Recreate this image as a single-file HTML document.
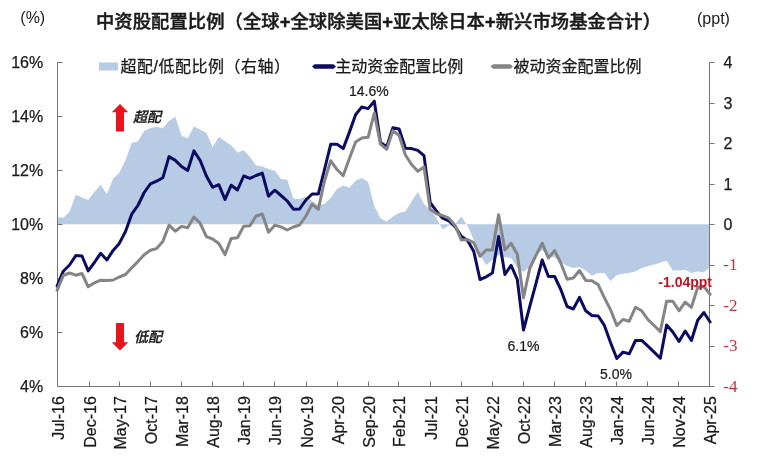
<!DOCTYPE html>
<html><head><meta charset="utf-8"><style>
html,body{margin:0;padding:0;background:#fff;}
body{width:760px;height:461px;overflow:hidden;}
svg{display:block;}
.ax{font-family:"Liberation Sans",Arial,sans-serif;font-size:16px;fill:#1a1a1a;stroke:#1a1a1a;stroke-width:0.25px;}
.axr{font-family:"Liberation Serif","Times New Roman",serif;font-size:17px;fill:#bb3340;}
.cj{font-family:"Liberation Sans","Noto Sans CJK SC",sans-serif;}
.dl{font-family:"Liberation Sans",Arial,sans-serif;font-size:14px;fill:#1a1a1a;stroke:#1a1a1a;stroke-width:0.2px;}
</style></head><body>
<svg width="760" height="461" viewBox="0 0 760 461">
<rect width="760" height="461" fill="#fff"/>
<text x="20.3" y="23.4" class="cj" font-size="16" fill="#1a1a1a">(%)</text>
<text x="697" y="24" class="cj" font-size="16" fill="#1a1a1a">(ppt)</text>
<text x="96" y="28" class="cj" font-size="18.3" font-weight="500" fill="#1a1a1a" stroke="#1a1a1a" stroke-width="0.45" textLength="565" lengthAdjust="spacing">中资股配置比例（全球<tspan font-weight="bold">+</tspan>全球除美国<tspan font-weight="bold">+</tspan>亚太除日本<tspan font-weight="bold">+</tspan>新兴市场基金合计）</text>
<rect x="99" y="62.5" width="19" height="8" fill="#b8cbe4"/>
<text x="120.5" y="72" class="cj" font-size="16" fill="#1a1a1a" stroke="#1a1a1a" stroke-width="0.25" textLength="169.5" lengthAdjust="spacing">超配/低配比例（右轴）</text>
<path d="M312 66.5L314.5 64.2H333.5L336 66.5L333.5 68.8H314.5Z" fill="#0b0b62"/>
<text x="335.3" y="72" class="cj" font-size="16" fill="#1a1a1a" stroke="#1a1a1a" stroke-width="0.25">主动资金配置比例</text>
<path d="M490.5 66.5L493 64.2H510.5L513 66.5L510.5 68.8H493Z" fill="#858585"/>
<text x="513.5" y="72" class="cj" font-size="16" fill="#1a1a1a" stroke="#1a1a1a" stroke-width="0.25">被动资金配置比例</text>
<polygon points="57.1,224.35 57.1,217.2 63.3,217.7 69.5,211.7 75.8,194.8 82.0,197.5 88.2,199.9 94.4,192.0 100.6,184.8 106.9,194.3 113.1,178.5 119.3,173.0 125.5,160.0 131.7,143.0 137.9,141.5 144.2,130.8 150.4,128.0 156.6,126.7 162.8,128.3 169.0,121.0 175.3,116.8 181.5,135.5 187.7,138.5 193.9,126.5 200.1,129.5 206.4,133.0 212.6,147.0 218.8,136.9 225.0,141.2 231.2,145.6 237.5,152.5 243.7,150.3 249.9,156.9 256.1,165.5 262.3,166.4 268.5,169.0 274.8,170.7 281.0,179.0 287.2,179.7 293.4,198.5 299.6,199.3 305.9,196.5 312.1,201.0 318.3,205.0 324.5,203.8 330.7,198.0 337.0,189.0 343.2,185.5 349.4,187.7 355.6,180.8 361.8,178.0 368.1,182.0 374.3,206.0 380.5,218.2 386.7,221.6 392.9,216.4 399.1,213.0 405.4,211.6 411.6,201.5 417.8,192.1 424.0,204.0 430.2,210.0 436.5,218.2 442.7,229.6 448.9,225.5 455.1,224.5 461.3,216.6 467.6,226.0 473.8,240.0 480.0,255.0 486.2,265.0 492.4,260.0 498.6,255.0 504.9,257.0 511.1,258.0 517.3,268.0 523.5,272.0 529.7,267.0 536.0,255.0 542.2,250.0 548.4,257.0 554.6,257.0 560.8,262.0 567.1,266.0 573.3,268.0 579.5,267.0 585.7,270.5 591.9,275.7 598.2,273.1 604.4,273.1 610.6,281.0 616.8,274.9 623.0,273.7 629.2,273.1 635.5,271.4 641.7,267.9 647.9,266.2 654.1,264.5 660.3,262.7 666.6,260.5 672.8,270.5 679.0,270.5 685.2,269.7 691.4,273.1 697.7,271.4 703.9,272.3 710.1,267.0 710.1,224.35" fill="#b8cbe4"/>
<path d="M57.5 62.5V386.5H709.5V62.5" fill="none" stroke="#767676" stroke-width="1"/>
<path d="M57.5 386.5H62.5" stroke="#767676" stroke-width="1"/>
<path d="M57.5 332.5H62.5" stroke="#767676" stroke-width="1"/>
<path d="M57.5 278.5H62.5" stroke="#767676" stroke-width="1"/>
<path d="M57.5 224.5H62.5" stroke="#767676" stroke-width="1"/>
<path d="M57.5 170.5H62.5" stroke="#767676" stroke-width="1"/>
<path d="M57.5 116.5H62.5" stroke="#767676" stroke-width="1"/>
<path d="M57.5 62.5H62.5" stroke="#767676" stroke-width="1"/>
<path d="M709.5 386.5H714.5" stroke="#767676" stroke-width="1"/>
<path d="M709.5 346.5H714.5" stroke="#767676" stroke-width="1"/>
<path d="M709.5 305.5H714.5" stroke="#767676" stroke-width="1"/>
<path d="M709.5 265.5H714.5" stroke="#767676" stroke-width="1"/>
<path d="M709.5 224.5H714.5" stroke="#767676" stroke-width="1"/>
<path d="M709.5 184.5H714.5" stroke="#767676" stroke-width="1"/>
<path d="M709.5 143.5H714.5" stroke="#767676" stroke-width="1"/>
<path d="M709.5 103.5H714.5" stroke="#767676" stroke-width="1"/>
<path d="M709.5 62.5H714.5" stroke="#767676" stroke-width="1"/>
<path d="M89.5 386.5V381.5" stroke="#767676" stroke-width="1"/>
<path d="M119.5 386.5V381.5" stroke="#767676" stroke-width="1"/>
<path d="M150.5 386.5V381.5" stroke="#767676" stroke-width="1"/>
<path d="M181.5 386.5V381.5" stroke="#767676" stroke-width="1"/>
<path d="M212.5 386.5V381.5" stroke="#767676" stroke-width="1"/>
<path d="M243.5 386.5V381.5" stroke="#767676" stroke-width="1"/>
<path d="M274.5 386.5V381.5" stroke="#767676" stroke-width="1"/>
<path d="M306.5 386.5V381.5" stroke="#767676" stroke-width="1"/>
<path d="M337.5 386.5V381.5" stroke="#767676" stroke-width="1"/>
<path d="M368.5 386.5V381.5" stroke="#767676" stroke-width="1"/>
<path d="M398.5 386.5V381.5" stroke="#767676" stroke-width="1"/>
<path d="M430.5 386.5V381.5" stroke="#767676" stroke-width="1"/>
<path d="M461.5 386.5V381.5" stroke="#767676" stroke-width="1"/>
<path d="M492.5 386.5V381.5" stroke="#767676" stroke-width="1"/>
<path d="M523.5 386.5V381.5" stroke="#767676" stroke-width="1"/>
<path d="M554.5 386.5V381.5" stroke="#767676" stroke-width="1"/>
<path d="M585.5 386.5V381.5" stroke="#767676" stroke-width="1"/>
<path d="M616.5 386.5V381.5" stroke="#767676" stroke-width="1"/>
<path d="M647.5 386.5V381.5" stroke="#767676" stroke-width="1"/>
<path d="M678.5 386.5V381.5" stroke="#767676" stroke-width="1"/>
<polyline points="57.1,286.0 63.3,271.2 69.5,265.0 75.8,255.6 82.0,256.0 88.2,270.9 94.4,262.5 100.6,253.3 106.9,260.0 113.1,250.4 119.3,243.4 125.5,231.5 131.7,214.2 137.9,205.5 144.2,192.5 150.4,183.8 156.6,181.2 162.8,177.8 169.0,156.6 175.3,160.4 181.5,166.5 187.7,170.5 193.9,150.9 200.1,160.3 206.4,176.0 212.6,187.3 218.8,184.7 225.0,199.5 231.2,185.2 237.5,190.0 243.7,176.0 249.9,178.3 256.1,175.5 262.3,173.1 268.5,196.2 274.8,190.2 281.0,195.5 287.2,201.0 293.4,209.2 299.6,209.0 305.9,200.0 312.1,194.0 318.3,194.1 324.5,169.5 330.7,144.3 337.0,144.3 343.2,148.6 349.4,132.1 355.6,114.7 361.8,106.9 368.1,108.6 374.3,101.2 380.5,142.5 386.7,146.8 392.9,127.7 399.1,129.0 405.4,148.2 411.6,148.6 417.8,150.4 424.0,155.6 430.2,202.6 436.5,211.2 442.7,218.2 448.9,220.8 455.1,226.6 461.3,236.3 467.6,240.6 473.8,251.5 480.0,279.5 486.2,276.8 492.4,273.0 498.6,236.5 504.9,274.5 511.1,265.4 517.3,279.5 523.5,330.0 529.7,306.7 536.0,283.3 542.2,260.0 548.4,276.5 554.6,276.5 560.8,289.5 567.1,306.5 573.3,309.0 579.5,297.4 585.7,310.8 591.9,315.5 598.2,316.0 604.4,325.4 610.6,342.7 616.8,358.5 623.0,352.1 629.2,353.8 635.5,340.5 641.7,340.4 647.9,346.2 654.1,352.1 660.3,358.2 666.6,325.0 672.8,332.0 679.0,341.5 685.2,331.0 691.4,340.5 697.7,320.2 703.9,312.5 710.1,322.0" fill="none" stroke="#0b0b62" stroke-width="3" stroke-linejoin="round" stroke-linecap="round"/>
<polyline points="57.1,290.3 63.3,275.5 69.5,273.0 75.8,275.2 82.0,273.5 88.2,286.8 94.4,282.8 100.6,280.2 106.9,280.4 113.1,280.0 119.3,277.0 125.5,274.5 131.7,267.7 137.9,261.6 144.2,254.7 150.4,250.3 156.6,248.6 162.8,241.6 169.0,225.2 175.3,231.2 181.5,226.4 187.7,227.8 193.9,217.0 200.1,223.0 206.4,236.7 212.6,239.0 218.8,243.5 225.0,254.6 231.2,238.4 237.5,237.8 243.7,226.3 249.9,225.7 256.1,216.0 262.3,214.0 268.5,232.3 274.8,225.3 281.0,226.9 287.2,230.0 293.4,227.0 299.6,225.0 305.9,216.0 312.1,204.2 318.3,209.4 324.5,181.0 330.7,160.8 337.0,169.5 343.2,175.6 349.4,158.5 355.6,142.0 361.8,138.1 368.1,137.3 374.3,113.0 380.5,144.2 386.7,149.4 392.9,130.6 399.1,135.5 405.4,155.0 411.6,164.5 417.8,171.2 424.0,166.9 430.2,209.5 436.5,213.8 442.7,215.6 448.9,218.2 455.1,225.5 461.3,240.0 467.6,239.6 473.8,242.6 480.0,256.3 486.2,250.0 492.4,250.0 498.6,214.8 504.9,250.0 511.1,243.3 517.3,254.2 523.5,297.8 529.7,268.5 536.0,255.4 542.2,243.2 548.4,258.0 554.6,250.6 560.8,263.0 567.1,279.2 573.3,278.0 579.5,270.5 585.7,280.4 591.9,280.8 598.2,284.6 604.4,297.8 610.6,309.9 616.8,325.5 623.0,319.5 629.2,321.2 635.5,307.3 641.7,310.8 647.9,319.5 654.1,325.5 660.3,331.6 666.6,301.2 672.8,301.2 679.0,310.8 685.2,302.1 691.4,307.3 697.7,287.4 703.9,286.5 710.1,294.3" fill="none" stroke="#858585" stroke-width="3" stroke-linejoin="round" stroke-linecap="round"/>
<text x="43.2" y="392.0" class="ax" text-anchor="end">4%</text>
<text x="43.2" y="338.1" class="ax" text-anchor="end">6%</text>
<text x="43.2" y="284.1" class="ax" text-anchor="end">8%</text>
<text x="43.2" y="230.2" class="ax" text-anchor="end">10%</text>
<text x="43.2" y="176.2" class="ax" text-anchor="end">12%</text>
<text x="43.2" y="122.2" class="ax" text-anchor="end">14%</text>
<text x="43.2" y="68.3" class="ax" text-anchor="end">16%</text>
<text x="723.3" y="391.8" class="axr">-4</text>
<text x="723.3" y="351.3" class="axr">-3</text>
<text x="723.3" y="310.9" class="axr">-2</text>
<text x="723.3" y="270.4" class="axr">-1</text>
<text x="723.5" y="230.0" class="ax">0</text>
<text x="723.5" y="189.6" class="ax">1</text>
<text x="723.5" y="149.1" class="ax">2</text>
<text x="723.5" y="108.7" class="ax">3</text>
<text x="723.5" y="68.2" class="ax">4</text>
<text transform="translate(63.9,396.2) rotate(-90)" class="ax" text-anchor="end">Jul-16</text>
<text transform="translate(95.9,396.2) rotate(-90)" class="ax" text-anchor="end">Dec-16</text>
<text transform="translate(125.9,396.2) rotate(-90)" class="ax" text-anchor="end">May-17</text>
<text transform="translate(156.9,396.2) rotate(-90)" class="ax" text-anchor="end">Oct-17</text>
<text transform="translate(187.9,396.2) rotate(-90)" class="ax" text-anchor="end">Mar-18</text>
<text transform="translate(218.9,396.2) rotate(-90)" class="ax" text-anchor="end">Aug-18</text>
<text transform="translate(249.9,396.2) rotate(-90)" class="ax" text-anchor="end">Jan-19</text>
<text transform="translate(280.9,396.2) rotate(-90)" class="ax" text-anchor="end">Jun-19</text>
<text transform="translate(312.9,396.2) rotate(-90)" class="ax" text-anchor="end">Nov-19</text>
<text transform="translate(343.9,396.2) rotate(-90)" class="ax" text-anchor="end">Apr-20</text>
<text transform="translate(374.9,396.2) rotate(-90)" class="ax" text-anchor="end">Sep-20</text>
<text transform="translate(404.9,396.2) rotate(-90)" class="ax" text-anchor="end">Feb-21</text>
<text transform="translate(436.9,396.2) rotate(-90)" class="ax" text-anchor="end">Jul-21</text>
<text transform="translate(467.9,396.2) rotate(-90)" class="ax" text-anchor="end">Dec-21</text>
<text transform="translate(498.9,396.2) rotate(-90)" class="ax" text-anchor="end">May-22</text>
<text transform="translate(529.9,396.2) rotate(-90)" class="ax" text-anchor="end">Oct-22</text>
<text transform="translate(560.9,396.2) rotate(-90)" class="ax" text-anchor="end">Mar-23</text>
<text transform="translate(591.9,396.2) rotate(-90)" class="ax" text-anchor="end">Aug-23</text>
<text transform="translate(622.9,396.2) rotate(-90)" class="ax" text-anchor="end">Jan-24</text>
<text transform="translate(653.9,396.2) rotate(-90)" class="ax" text-anchor="end">Jun-24</text>
<text transform="translate(684.9,396.2) rotate(-90)" class="ax" text-anchor="end">Nov-24</text>
<text transform="translate(715.9,396.2) rotate(-90)" class="ax" text-anchor="end">Apr-25</text>
<path d="M120 104L128.2 112.3H124V131.6H116V112.3H111.8Z" fill="#e8141c"/>
<path d="M120 350.6L128.2 342.3H124V323H116V342.3H111.8Z" fill="#e8141c"/>
<text x="133" y="121.8" class="cj" font-size="14" font-style="italic" font-weight="500" fill="#1a1a1a" stroke="#1a1a1a" stroke-width="0.3">超配</text>
<text x="134" y="342" class="cj" font-size="14" font-style="italic" font-weight="500" fill="#1a1a1a" stroke="#1a1a1a" stroke-width="0.3">低配</text>
<text x="349" y="95.8" class="dl">14.6%</text>
<text x="507.5" y="350.9" class="dl">6.1%</text>
<text x="600" y="379" class="dl">5.0%</text>
<text x="658.3" y="287.2" font-family="Liberation Sans,Arial,sans-serif" font-size="14" font-weight="bold" fill="#bf1420">-1.04ppt</text>
</svg>
</body></html>
